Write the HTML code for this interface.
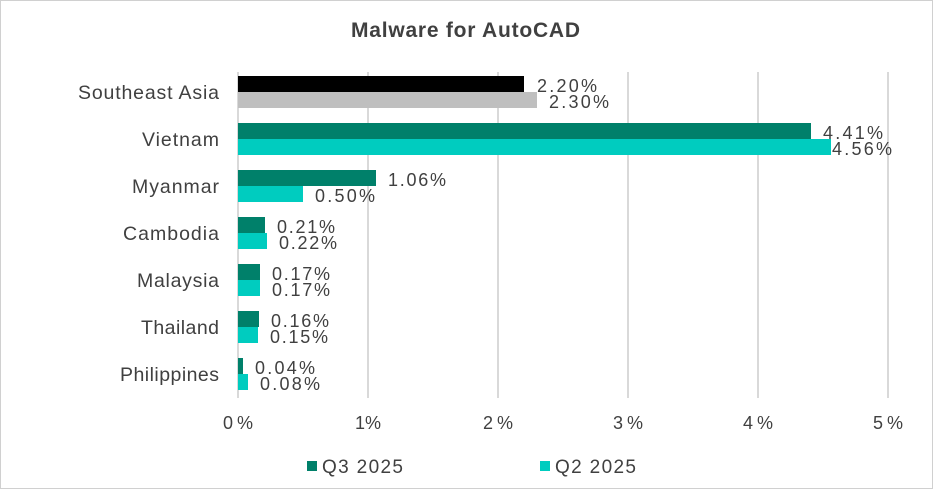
<!DOCTYPE html>
<html><head><style>body{margin:0;background:#fff}svg{display:block;font-family:"Liberation Sans",sans-serif}</style></head><body>
<svg width="933" height="489" viewBox="0 0 933 489" xmlns="http://www.w3.org/2000/svg">
<rect x="0.5" y="0.5" width="932" height="488" fill="#fff" stroke="#d0d0d0"/>
<text x="351" y="37" font-size="21" font-weight="bold" fill="#404040" textLength="229" lengthAdjust="spacing">Malware for AutoCAD</text>
<g stroke="#d9d9d9" stroke-width="2">
<line x1="238" y1="72" x2="238" y2="398"/><line x1="368" y1="72" x2="368" y2="398"/><line x1="498" y1="72" x2="498" y2="398"/><line x1="628" y1="72" x2="628" y2="398"/><line x1="758" y1="72" x2="758" y2="398"/><line x1="888" y1="72" x2="888" y2="398"/>
</g>
<g font-size="18" fill="#404040">
<text x="223" y="429" textLength="30" lengthAdjust="spacing">0%</text><text x="355" y="429" textLength="26" lengthAdjust="spacing">1%</text><text x="483" y="429" textLength="30" lengthAdjust="spacing">2%</text><text x="613" y="429" textLength="30" lengthAdjust="spacing">3%</text><text x="743" y="429" textLength="30" lengthAdjust="spacing">4%</text><text x="873" y="429" textLength="30" lengthAdjust="spacing">5%</text>
</g>
<g font-size="19.5" fill="#404040">
<text x="78" y="99" textLength="141" lengthAdjust="spacing">Southeast Asia</text>
<text x="142" y="146" textLength="77" lengthAdjust="spacing">Vietnam</text>
<text x="132" y="193" textLength="87" lengthAdjust="spacing">Myanmar</text>
<text x="123" y="240" textLength="96" lengthAdjust="spacing">Cambodia</text>
<text x="137" y="287" textLength="82" lengthAdjust="spacing">Malaysia</text>
<text x="141" y="334" textLength="78" lengthAdjust="spacing">Thailand</text>
<text x="120" y="381" textLength="99" lengthAdjust="spacing">Philippines</text>
</g>
<rect x="238" y="76" width="286" height="16" fill="#000"/>
<rect x="238" y="92" width="299" height="16" fill="#bfbfbf"/>
<rect x="238" y="123" width="573" height="16" fill="#00806a"/>
<rect x="238" y="139" width="593" height="16" fill="#00ccbf"/>
<rect x="238" y="170" width="138" height="16" fill="#00806a"/>
<rect x="238" y="186" width="65" height="16" fill="#00ccbf"/>
<rect x="238" y="217" width="27" height="16" fill="#00806a"/>
<rect x="238" y="233" width="29" height="16" fill="#00ccbf"/>
<rect x="238" y="264" width="22" height="16" fill="#00806a"/>
<rect x="238" y="280" width="22" height="16" fill="#00ccbf"/>
<rect x="238" y="311" width="21" height="16" fill="#00806a"/>
<rect x="238" y="327" width="20" height="16" fill="#00ccbf"/>
<rect x="238" y="358" width="5" height="16" fill="#00806a"/>
<rect x="238" y="374" width="10" height="16" fill="#00ccbf"/>
<g font-size="18" fill="#404040">
<text x="537" y="92" textLength="60" lengthAdjust="spacing">2.20%</text><text x="549" y="108" textLength="60" lengthAdjust="spacing">2.30%</text>
<text x="823" y="139" textLength="60" lengthAdjust="spacing">4.41%</text><text x="832" y="155" textLength="60" lengthAdjust="spacing">4.56%</text>
<text x="388" y="186" textLength="58" lengthAdjust="spacing">1.06%</text><text x="315" y="202" textLength="60" lengthAdjust="spacing">0.50%</text>
<text x="277" y="233" textLength="58" lengthAdjust="spacing">0.21%</text><text x="279" y="249" textLength="58" lengthAdjust="spacing">0.22%</text>
<text x="272" y="280" textLength="58" lengthAdjust="spacing">0.17%</text><text x="272" y="296" textLength="58" lengthAdjust="spacing">0.17%</text>
<text x="271" y="327" textLength="58" lengthAdjust="spacing">0.16%</text><text x="270" y="343" textLength="58" lengthAdjust="spacing">0.15%</text>
<text x="255" y="374" textLength="60" lengthAdjust="spacing">0.04%</text><text x="260" y="390" textLength="60" lengthAdjust="spacing">0.08%</text>
</g>
<rect x="307" y="461" width="10" height="10" fill="#00806a"/>
<text x="322" y="473" font-size="19" fill="#404040" textLength="81" lengthAdjust="spacing">Q3 2025</text>
<rect x="540" y="461" width="10" height="10" fill="#00ccbf"/>
<text x="555" y="473" font-size="19" fill="#404040" textLength="81" lengthAdjust="spacing">Q2 2025</text>
</svg>
</body></html>
